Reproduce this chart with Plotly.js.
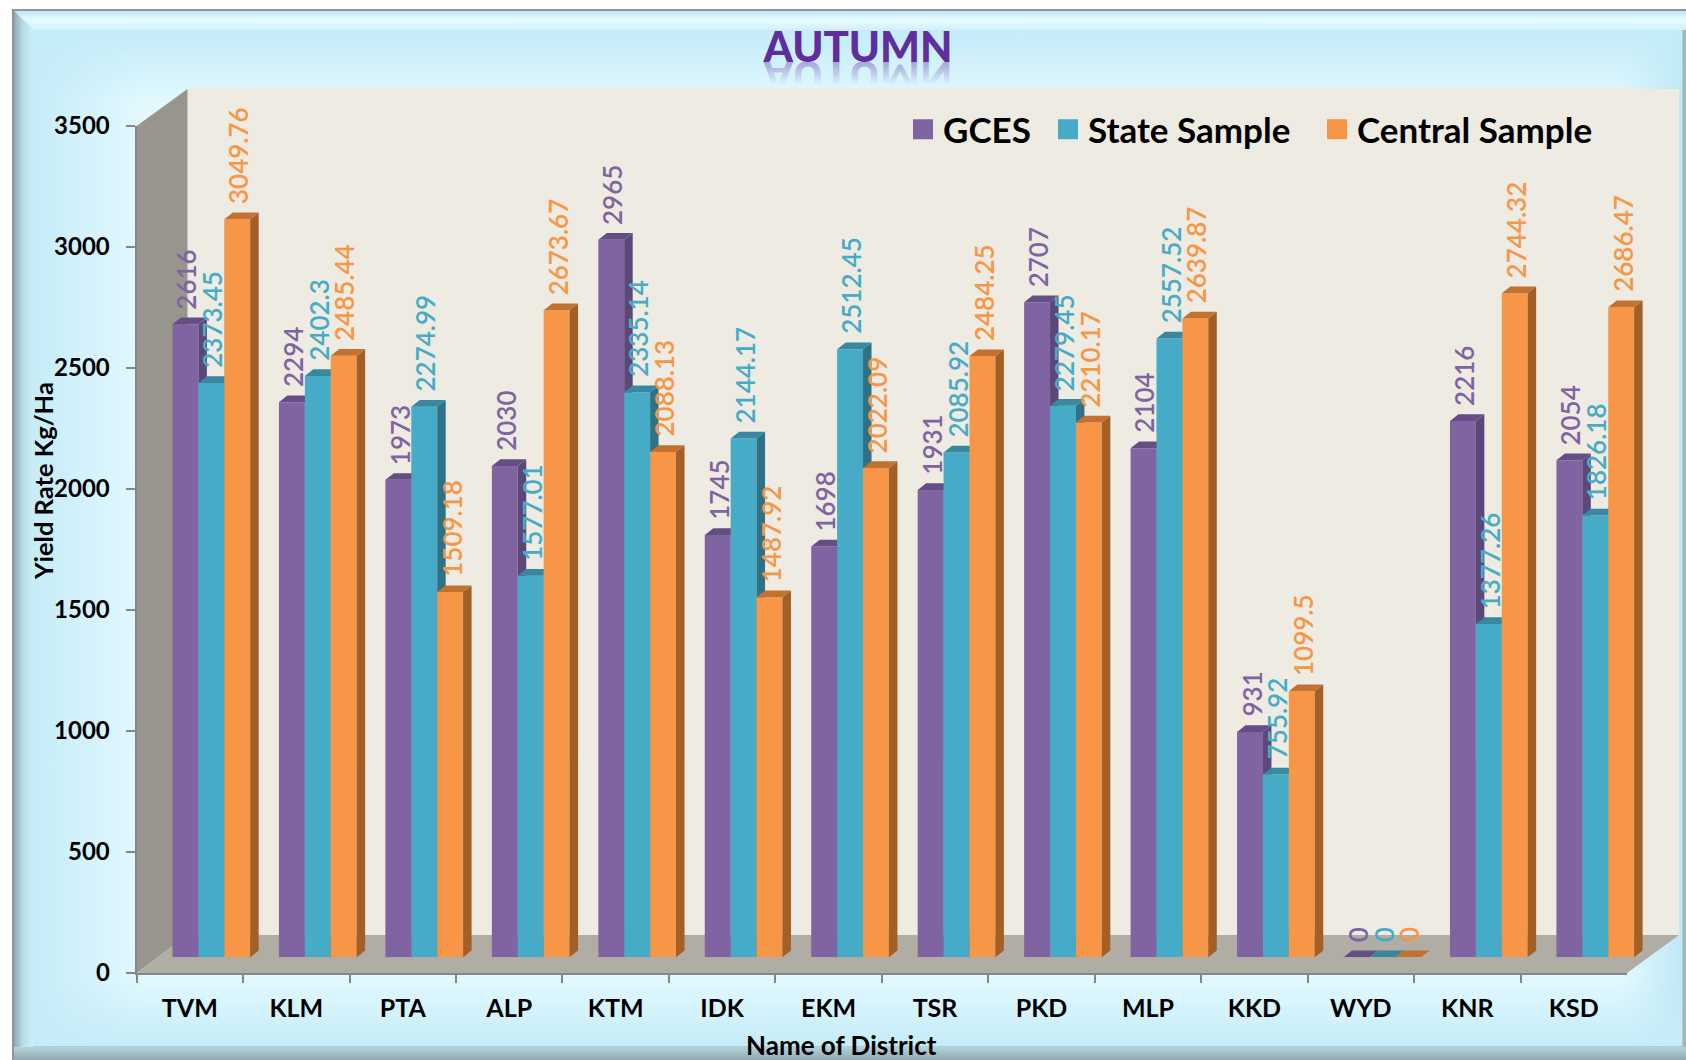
<!DOCTYPE html>
<html>
<head>
<meta charset="utf-8">
<title>AUTUMN</title>
<script src="https://cdn.plot.ly/plotly-3.0.1.min.js"></script>
<style>
html,body{margin:0;padding:0;background:#fff;width:1686px;height:1060px;overflow:hidden}
#stage{position:absolute;left:0;top:0;width:1686px;height:1060px;overflow:hidden}
.b{position:absolute}
#outer{left:12px;top:9px;width:1680px;height:1060px;background:#9fb8c0;border-left:2px solid #8b979c;border-top:2px solid #8b979c;box-sizing:border-box}
#bevT{left:14px;top:11px;width:1672px;height:19px;background:linear-gradient(to bottom,#bfe6ef 0,#e6fbff 45%,#d2f0f8 100%);clip-path:polygon(0 0,100% 0,100% 100%,18px 100%)}
#bevL{left:14px;top:11px;width:19px;height:1049px;background:linear-gradient(to right,#8fa9b3 0,#b5dbe6 45%,#cdeff7 100%);clip-path:polygon(0 0,100% 18px,100% 1036px,0 100%)}
#bevB{left:14px;top:1047px;width:1672px;height:13px;background:linear-gradient(to bottom,#b7d3da 0,#8fa8af 100%)}
#panel{left:32px;top:29px;width:1651px;height:1018px;box-sizing:border-box;border:1px solid #a9d0da;
background:
 linear-gradient(to bottom,#c4ecf8 0,rgba(196,236,248,0) 75px),
 linear-gradient(to top,#c6ecf8 0,rgba(198,236,248,0) 70px),
 linear-gradient(to right,#c6ecf8 0,rgba(198,236,248,0) 110px),
 linear-gradient(to left,#bfe8f5 0,rgba(191,232,245,0) 60px),
 #e3f9ff}
#reflect{left:658px;top:62px;width:400px;height:28px;
 background:url("data:image/svg+xml,%3Csvg xmlns='http://www.w3.org/2000/svg' width='400' height='28'%3E%3Cdefs%3E%3ClinearGradient id='g' gradientUnits='userSpaceOnUse' x1='0' y1='0' x2='0' y2='-24'%3E%3Cstop offset='0' stop-color='%235F2D9E' stop-opacity='.4'/%3E%3Cstop offset='1' stop-color='%235F2D9E' stop-opacity='0'/%3E%3C/linearGradient%3E%3C/defs%3E%3Ctext transform='translate(200,-1) scale(1,-1)' text-anchor='middle' font-family='Lato' font-weight='900' font-size='42' fill='url(%23g)'%3EAUTUMN%3C/text%3E%3C/svg%3E") no-repeat}
#chart{position:absolute;left:0;top:0;width:1686px;height:1060px}
</style>
</head>
<body>
<div id="stage">
  <div class="b" id="outer"></div>
  <div class="b" id="panel"></div>
  <div class="b" id="bevT"></div>
  <div class="b" id="bevL"></div>
  <div class="b" id="bevB"></div>
  <div class="b" id="reflect" aria-hidden="true"></div>
  <div id="chart"></div>
</div>
<script>
// ---------- data ----------
var categories = ['TVM','KLM','PTA','ALP','KTM','IDK','EKM','TSR','PKD','MLP','KKD','WYD','KNR','KSD'];
var gces    = [2616,2294,1973,2030,2965,1745,1698,1931,2707,2104,931,0,2216,2054];
var state   = [2373.45,2402.3,2274.99,1577.01,2335.14,2144.17,2512.45,2085.92,2279.45,2557.52,755.92,0,1377.26,1826.18];
var central = [3049.76,2485.44,1509.18,2673.67,2088.13,1487.92,2022.09,2484.25,2210.17,2639.87,1099.5,0,2744.32,2686.47];
var seriesNames = ['GCES','State Sample','Central Sample'];
var yTicks = [0,500,1000,1500,2000,2500,3000,3500];

// ---------- styling ----------
var frontColors = ['#8064A2','#46ABC7','#F79646'];
var sideColors  = ['#5C4779','#2F7288','#A25F28'];
var topColors   = ['#644F84','#3A87A0','#C27230'];
var W = 1686, H = 1060;
function px(x){return x/W;}
function py(y){return 1-y/H;}
var axL=136.6, axR=1627, axT=126, axB=973;     // front axis box
var shiftX=21.5, shiftY=15.7;                  // bars sit part-way into the depth
var backL=187.5, backR=1679, backT=89, backB=935;
var sideX=8.5/106.5, sideV=6.7/0.242;          // bar depth, in axis units
var barW=0.2433;
var fontName='Lato, sans-serif';

var traces=[], annotations=[];
var seriesVals=[gces,state,central];
var axisIds=['','2','3','4'];
var legendIds=['legend','legend2','legend3'];
var legendLeft=[903,1048,1317];

// legend entries
seriesNames.forEach(function(n,s){
  traces.push({type:'scatter',mode:'markers',name:n,x:categories,y:categories.map(function(){return null;}),
    xaxis:'x',yaxis:'y',hoverinfo:'skip',legend:legendIds[s],
    marker:{symbol:'square',size:16,color:frontColors[s],line:{color:frontColors[s],width:4}}});
});

// each series has its own overlaid subplot so that later series paint over earlier ones
seriesVals.forEach(function(vals,s){
  var xa='x'+axisIds[s+1], ya='y'+axisIds[s+1];
  var off=(s-1.5)*barW;
  traces.push({type:'bar',name:seriesNames[s],showlegend:false,x:categories.map(function(c,i){return i;}),y:vals,
    width:barW,offset:off,xaxis:xa,yaxis:ya,marker:{color:frontColors[s],line:{width:0}},
    customdata:categories,hovertemplate:'%{customdata}: %{y}<extra>'+seriesNames[s]+'</extra>'});
  var sx=[],sy=[],tx=[],ty=[];
  vals.forEach(function(v,i){
    var x0=i+off,x1=x0+barW;
    sx.push(x1,x1+sideX,x1+sideX,x1,x1,null);
    sy.push(0,sideV,v+sideV,v,0,null);
    tx.push(x0,x1,x1+sideX,x0+sideX,x0,null);
    ty.push(v,v,v+sideV,v+sideV,v,null);
    annotations.push({xref:'x2',yref:'y2',x:i+off+barW/2,y:v,text:String(v),showarrow:false,
      textangle:-90,xanchor:'center',yanchor:'bottom',yshift:13,xshift:1,
      font:{family:fontName,size:26,color:frontColors[s],weight:600}});
  });
  [[sx,sy,sideColors[s]],[tx,ty,topColors[s]]].forEach(function(p){
    traces.push({type:'scatter',mode:'lines',x:p[0],y:p[1],xaxis:xa,yaxis:ya,fill:'toself',fillcolor:p[2],
      line:{width:0,color:p[2]},showlegend:false,hoverinfo:'skip'});
  });
});

annotations.push({xref:'paper',yref:'paper',x:px(841),y:py(1045),xanchor:'center',yanchor:'middle',text:'Name of District',showarrow:false,
  font:{family:fontName,size:26,color:'#000',weight:'bold'}});
annotations.push({xref:'paper',yref:'paper',x:px(43),y:py(481),xanchor:'center',yanchor:'middle',text:'Yield Rate Kg/Ha',showarrow:false,textangle:-90,
  font:{family:fontName,size:25.5,color:'#000',weight:'bold'}});

function hiddenX(over,anchor){
  var a={type:'linear',range:[-0.5,13.5],visible:false,anchor:anchor,fixedrange:true};
  if(over){a.overlaying=over;} else {a.domain=[px(axL+shiftX),px(axR+shiftX)];}
  return a;
}
function hiddenY(over,anchor){
  var a={type:'linear',range:[0,3500],visible:false,anchor:anchor,fixedrange:true};
  if(over){a.overlaying=over;} else {a.domain=[py(axB-shiftY),py(axT-shiftY)];}
  return a;
}
function poly(pts){
  return 'M'+pts.map(function(p){return px(p[0])+','+py(p[1]);}).join('L')+'Z';
}
function legendAt(left){
  return {orientation:'h',x:px(left),xanchor:'left',y:py(100),yanchor:'top',bgcolor:'rgba(0,0,0,0)',
    itemsizing:'trace',itemwidth:30,font:{family:fontName,size:35,color:'#000',weight:'bold'}};
}
var layout={
  width:W,height:H,margin:{l:0,r:0,t:0,b:0,pad:0},
  paper_bgcolor:'rgba(0,0,0,0)',plot_bgcolor:'rgba(0,0,0,0)',
  barmode:'overlay',showlegend:true,hovermode:'closest',
  title:{text:'AUTUMN',x:px(858),xanchor:'center',y:py(47),yanchor:'middle',
    font:{family:fontName,size:42,color:'#5F2D9E',weight:900}},
  legend:legendAt(legendLeft[0]),legend2:legendAt(legendLeft[1]),legend3:legendAt(legendLeft[2]),
  xaxis:{type:'category',categoryorder:'array',categoryarray:categories,range:[-0.5,13.5],tickson:'boundaries',
    domain:[px(axL),px(axR)],anchor:'y',showgrid:false,zeroline:false,showline:true,linecolor:'#868686',linewidth:2,
    ticks:'outside',ticklen:8,tickwidth:2,tickcolor:'#868686',ticklabelstandoff:12,fixedrange:true,
    tickfont:{family:fontName,size:25,color:'#000',weight:'bold'}},
  yaxis:{type:'linear',range:[0,3500],tickvals:yTicks,domain:[py(axB),py(axT)],anchor:'x',showgrid:false,zeroline:false,
    showline:true,linecolor:'#868686',linewidth:2,ticks:'outside',ticklen:9,tickwidth:2,tickcolor:'#868686',
    ticklabelstandoff:11,fixedrange:true,tickfont:{family:fontName,size:24,color:'#000',weight:'bold'}},
  xaxis2:hiddenX(null,'y2'),yaxis2:hiddenY(null,'x2'),
  xaxis3:hiddenX('x2','y3'),yaxis3:hiddenY('y2','x3'),
  xaxis4:hiddenX('x2','y4'),yaxis4:hiddenY('y2','x4'),
  annotations:annotations,
  shapes:[
    {type:'path',xref:'paper',yref:'paper',layer:'below',line:{width:0},fillcolor:'#EEEBE2',
      path:poly([[backL,backT],[backR,backT],[backR,backB],[backL,backB]])},
    {type:'path',xref:'paper',yref:'paper',layer:'below',line:{width:0},fillcolor:'#97958C',
      path:poly([[axL,axT],[backL,backT],[backL,backB],[axL,axB]])},
    {type:'path',xref:'paper',yref:'paper',layer:'below',line:{width:0},fillcolor:'#B0ADA5',
      path:poly([[axL,axB],[backL,backB],[backR,backB],[axR,axB]])}
  ]
};
Plotly.newPlot('chart',traces,layout,{displayModeBar:false,responsive:false});
</script>
</body>
</html>
